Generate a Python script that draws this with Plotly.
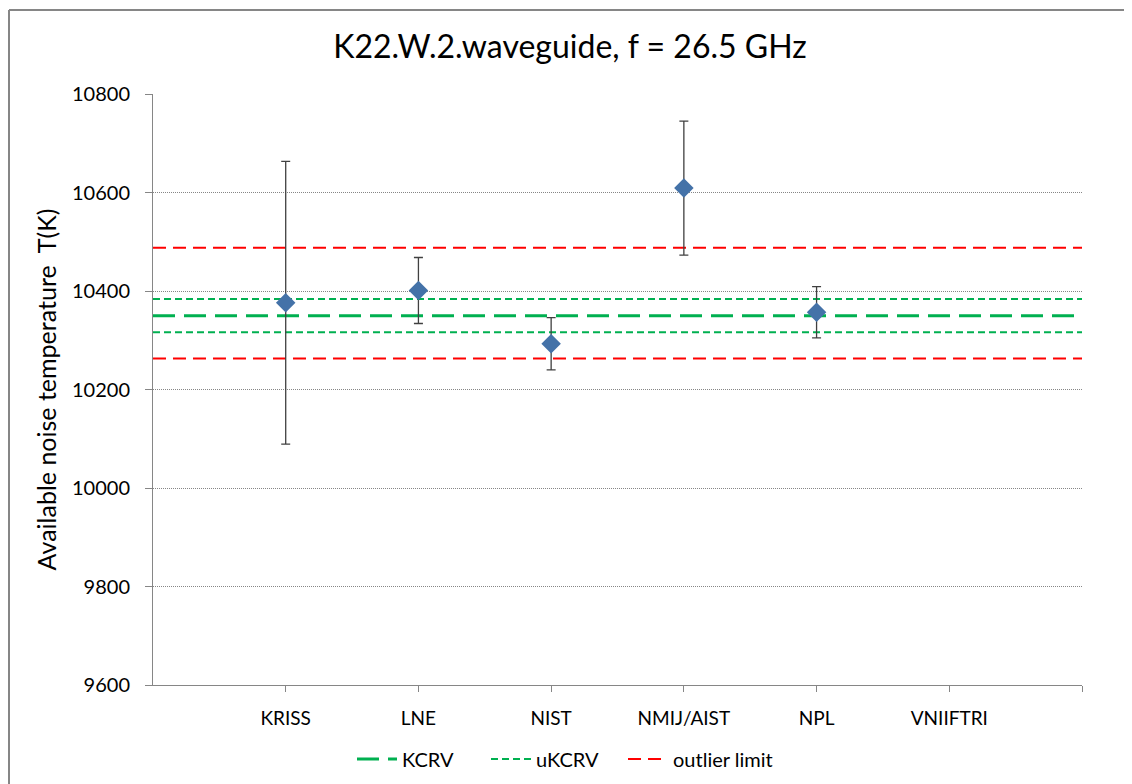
import plotly.graph_objects as go

categories = ["KRISS", "LNE", "NIST", "NMIJ/AIST", "NPL", "VNIIFTRI"]
values = [10376, 10401, 10293, 10609, 10357, None]
uncert = [287, 67, 53, 136, 52, None]
kcrv = 10350
ukcrv = [10384, 10316]
outlier = [10488, 10263]
y_ticks = [9600, 9800, 10000, 10200, 10400, 10600, 10800]

FONT = "Lato, Calibri, Carlito, sans-serif"
GRAY = "#868686"

xpos = list(range(len(categories)))
xr = [-1, len(categories)]

fig = go.Figure()

def hline(y, name, color, width, dash, show, legend="legend"):
    fig.add_trace(go.Scatter(
        x=xr, y=[y, y], mode="lines", name=name, showlegend=show,
        legendgroup=name, legend=legend,
        line=dict(color=color, width=width, dash=dash),
        hoverinfo="skip"))

hline(kcrv, "KCRV", "#00B050", 3, "22px,9px", True)
hline(ukcrv[0], "uKCRV", "#00B050", 2, "7px,4px", True)
hline(ukcrv[1], "uKCRV", "#00B050", 2, "7px,4px", False)
hline(outlier[0], "outlier limit", "#FF0000", 2, "13px,7px", True, "legend2")
hline(outlier[1], "outlier limit", "#FF0000", 2, "13px,7px", False, "legend2")

fig.add_trace(go.Scatter(
    x=xpos, y=values, mode="markers", name="data", showlegend=False,
    marker=dict(symbol="diamond", size=15, color="#4472A8"),
    error_y=dict(type="data", array=uncert, visible=True,
                 color="#404040", thickness=1.3, width=4.5)))

# chart-area frame (left and top edges; the rest runs off the page)
fig.add_shape(type="line", xref="paper", yref="paper",
              x0=-0.155, x1=-0.155, y0=-0.3, y1=1.142,
              line=dict(color=GRAY, width=2), layer="below")
fig.add_shape(type="line", xref="paper", yref="paper",
              x0=-0.155, x1=1.2, y0=1.142, y1=1.142,
              line=dict(color=GRAY, width=2), layer="below")

legend_common = dict(orientation="h", xanchor="left", y=-0.125,
                     yanchor="middle", font=dict(family=FONT, size=20),
                     bgcolor="rgba(0,0,0,0)", itemwidth=40, tracegroupgap=0)

fig.update_layout(
    width=1124, height=776,
    margin=dict(l=145, r=50, t=86, b=99, autoexpand=False),
    paper_bgcolor="white", plot_bgcolor="white",
    font=dict(family=FONT, color="#000000", size=19),
    title=dict(text="K22.W.2.waveguide, f = 26.5 GHz",
               font=dict(family=FONT, size=32, color="#000000"),
               x=562 / 1124, xref="container", xanchor="center",
               y=1 - 39 / 776, yanchor="middle"),
    showlegend=True,
    legend=dict(x=(352 - 8 - 145) / 929, entrywidth=79, **legend_common),
    legend2=dict(x=(623 - 8 - 145) / 929, **legend_common),
    xaxis=dict(range=xr, tickvals=xpos + [len(categories)],
               ticktext=categories + [""],
               showgrid=False, zeroline=False, automargin=False,
               showline=True, linecolor=GRAY, linewidth=1,
               ticks="outside", ticklen=6, tickcolor=GRAY,
               tickfont=dict(family=FONT, size=19), ticklabelstandoff=10),
    yaxis=dict(range=[y_ticks[0], y_ticks[-1]], tickvals=y_ticks,
               ticktext=[str(v) for v in y_ticks], automargin=False,
               showgrid=True, gridcolor=GRAY, griddash="1px,1px", gridwidth=1,
               zeroline=False, showline=True, linecolor=GRAY, linewidth=1,
               ticks="outside", ticklen=7, tickcolor=GRAY,
               tickfont=dict(family=FONT, size=20), ticklabelstandoff=11,
               title=dict(text="Available noise temperature  T(K)",
                          font=dict(family=FONT, size=25), standoff=8)),
)

fig.write_html("out.html")
